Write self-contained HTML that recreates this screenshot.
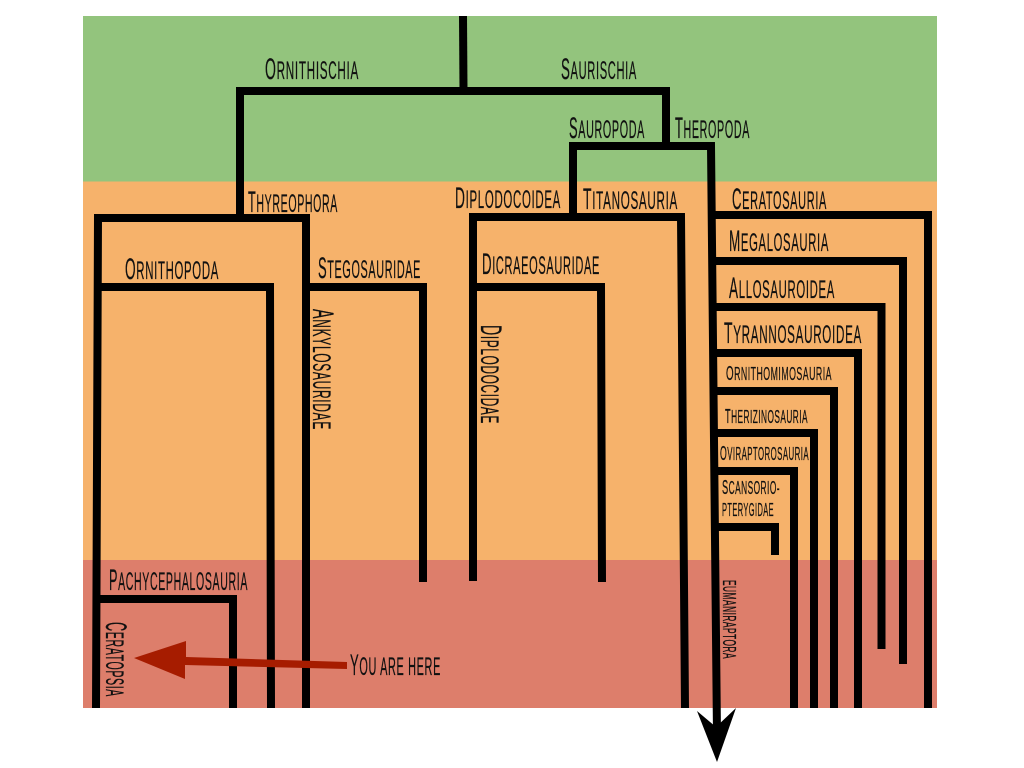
<!DOCTYPE html>
<html lang="en">
<head>
<meta charset="utf-8">
<title>Dinosaur cladogram</title>
<style>
html,body{margin:0;padding:0;background:#fff;width:1024px;height:768px;overflow:hidden}
svg{display:block}
text{font-family:"Liberation Sans",sans-serif;fill:#111;font-size:25px;letter-spacing:1.5px;stroke:#111;stroke-width:.25px}
text tspan.c{font-size:30px}
text.s{font-size:18px;letter-spacing:1px}
text.s tspan.c{font-size:20px}
.b{fill:none;stroke:#000;stroke-width:8;stroke-linejoin:miter;stroke-linecap:butt}
</style>
</head>
<body>
<svg xmlns="http://www.w3.org/2000/svg" width="1024" height="768" viewBox="0 0 1024 768">
  <g>
    <rect x="83" y="16" width="854" height="165.500" fill="#93c47d"/>
    <rect x="83" y="181.500" width="854" height="378.500" fill="#f6b26b"/>
    <rect x="83" y="560" width="854" height="148" fill="#dd7e6b"/>
  </g>
  <g>
    <path class="b" d="M463 16L463.500 90"/>
    <path class="b" d="M240 215V91L666 91V146"/>
    <path class="b" d="M573 216V146L711 146L717 735"/>
    <path class="b" d="M96 708L98 218L306 218L306 708"/>
    <path class="b" d="M97 287H270L271 708"/>
    <path class="b" d="M306 287H423V582"/>
    <path class="b" d="M96 599H233V708"/>
    <path class="b" d="M473 581V217H681L685 708"/>
    <path class="b" d="M473 287H601L602 582"/>
    <path class="b" d="M712 215H928V708"/>
    <path class="b" d="M712 261H903V664"/>
    <path class="b" d="M713 307H881.500V649"/>
    <path class="b" d="M713 353H858V708"/>
    <path class="b" d="M713 391H834V708"/>
    <path class="b" d="M714 433H814V708"/>
    <path class="b" d="M714 471H794V708"/>
    <path class="b" d="M715 527H775V555"/>
    <polygon points="697,711 717,762 736,708 716,727" fill="#000"/>
  </g>
  <g>
    <polygon points="134,658 186,641 186,657 347,662 347,669 185,665 185,679" fill="#a61c00"/>
  </g>
  <g>
    <text x="265" y="79" textLength="94" lengthAdjust="spacingAndGlyphs"><tspan class="c">O</tspan>RNITHISCHIA</text>
    <text x="561" y="79" textLength="76" lengthAdjust="spacingAndGlyphs"><tspan class="c">S</tspan>AURISCHIA</text>
    <text x="569" y="138" textLength="76" lengthAdjust="spacingAndGlyphs"><tspan class="c">S</tspan>AUROPODA</text>
    <text x="675" y="138" textLength="75" lengthAdjust="spacingAndGlyphs"><tspan class="c">T</tspan>HEROPODA</text>
    <text x="248" y="212" textLength="90" lengthAdjust="spacingAndGlyphs"><tspan class="c">T</tspan>HYREOPHORA</text>
    <text x="455" y="208" textLength="106" lengthAdjust="spacingAndGlyphs"><tspan class="c">D</tspan>IPLODOCOIDEA</text>
    <text x="583" y="209" textLength="95" lengthAdjust="spacingAndGlyphs"><tspan class="c">T</tspan>ITANOSAURIA</text>
    <text x="732" y="209" textLength="95" lengthAdjust="spacingAndGlyphs"><tspan class="c">C</tspan>ERATOSAURIA</text>
    <text x="729" y="251" textLength="100" lengthAdjust="spacingAndGlyphs"><tspan class="c">M</tspan>EGALOSAURIA</text>
    <text x="729" y="298" textLength="106" lengthAdjust="spacingAndGlyphs"><tspan class="c">A</tspan>LLOSAUROIDEA</text>
    <text x="724" y="343" textLength="138" lengthAdjust="spacingAndGlyphs"><tspan class="c">T</tspan>YRANNOSAUROIDEA</text>
    <text class="s" x="726" y="380" textLength="106" lengthAdjust="spacingAndGlyphs"><tspan class="c">O</tspan>RNITHOMIMOSAURIA</text>
    <text class="s" x="725" y="423" textLength="83" lengthAdjust="spacingAndGlyphs"><tspan class="c">T</tspan>HERIZINOSAURIA</text>
    <text class="s" x="720" y="460" textLength="89" lengthAdjust="spacingAndGlyphs"><tspan class="c">O</tspan>VIRAPTOROSAURIA</text>
    <text class="s" x="722" y="494" textLength="58" lengthAdjust="spacingAndGlyphs"><tspan class="c">S</tspan>CANSORIO-</text>
    <text class="s" x="722" y="516" textLength="52" lengthAdjust="spacingAndGlyphs">PTERYGIDAE</text>
    <text x="125" y="279" textLength="94" lengthAdjust="spacingAndGlyphs"><tspan class="c">O</tspan>RNITHOPODA</text>
    <text x="318" y="278" textLength="103" lengthAdjust="spacingAndGlyphs"><tspan class="c">S</tspan>TEGOSAURIDAE</text>
    <text x="482" y="274" textLength="118" lengthAdjust="spacingAndGlyphs"><tspan class="c">D</tspan>ICRAEOSAURIDAE</text>
    <text x="109" y="590" textLength="139" lengthAdjust="spacingAndGlyphs"><tspan class="c">P</tspan>ACHYCEPHALOSAURIA</text>
    <text x="350" y="675" textLength="91" lengthAdjust="spacingAndGlyphs"><tspan class="c">Y</tspan>OU ARE HERE</text>
    <text transform="translate(106 622) rotate(90)" textLength="75" lengthAdjust="spacingAndGlyphs"><tspan class="c">C</tspan>ERATOPSIA</text>
    <text transform="translate(313 309) rotate(90)" textLength="121" lengthAdjust="spacingAndGlyphs"><tspan class="c">A</tspan>NKYLOSAURIDAE</text>
    <text transform="translate(481 325) rotate(90)" textLength="99" lengthAdjust="spacingAndGlyphs"><tspan class="c">D</tspan>IPLODOCIDAE</text>
    <text class="s" transform="translate(723 580) rotate(90)" textLength="79" lengthAdjust="spacingAndGlyphs">EUMANIRAPTORA</text>
  </g>
</svg>
</body>
</html>
